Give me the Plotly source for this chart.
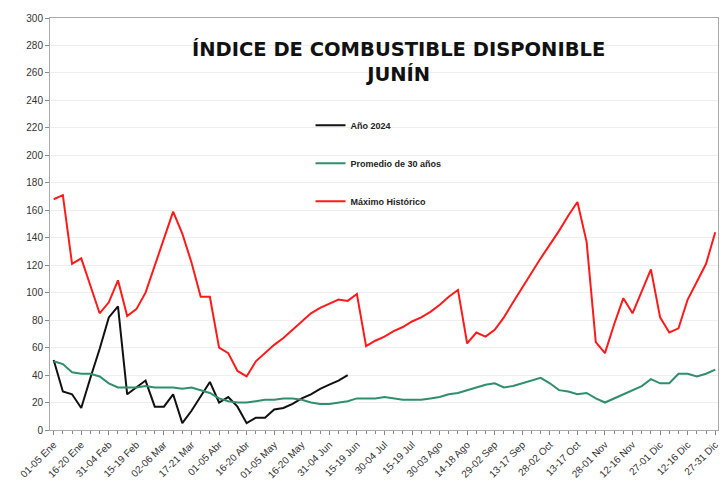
import plotly.graph_objects as go

# pentad index (73 periods of 5 days in the year)
pentad = list(range(73))

tick_pos = list(range(0, 73, 3))
tick_text = ['01-05 Ene', '16-20 Ene', '31-04 Feb', '15-19 Feb', '02-06 Mar', '17-21 Mar',
             '01-05 Abr', '16-20 Abr', '01-05 May', '16-20 May', '31-04 Jun', '15-19 Jun',
             '30-04 Jul', '15-19 Jul', '30-03 Ago', '14-18 Ago', '29-02 Sep', '13-17 Sep',
             '28-02 Oct', '13-17 Oct', '28-01 Nov', '12-16 Nov', '27-01 Dic', '12-16 Dic',
             '27-31 Dic']

anio_2024 = [51, 28, 26, 16, 38, 59, 82, 90, 26, 31, 36, 17, 17, 26, 5, 14, 25, 35,
             20, 24, 17, 5, 9, 9, 15, 16, 19, 23, 26, 30, 33, 36, 40]

promedio_30 = [50, 48, 42, 41, 41, 39, 34, 31, 31, 31, 32, 31, 31, 31, 30, 31, 29, 27,
               23, 21, 20, 20, 21, 22, 22, 23, 23, 22, 20, 19, 19, 20, 21, 23, 23, 23,
               24, 23, 22, 22, 22, 23, 24, 26, 27, 29, 31, 33, 34, 31, 32, 34, 36, 38,
               34, 29, 28, 26, 27, 23, 20, 23, 26, 29, 32, 37, 34, 34, 41, 41, 39, 41, 44]

maximo_hist = [168, 171, 121, 125, 105, 85, 93, 109, 83, 88, 100, 120, 140, 159, 143, 122,
               97, 97, 60, 56, 43, 39, 50, 56, 62, 67, 73, 79, 85, 89, 92, 95, 94, 99,
               61, 65, 68, 72, 75, 79, 82, 86, 91, 97, 102, 63, 71, 68, 73, 82, 93, 104,
               114, 125, 135, 145, 156, 166, 137, 64, 56, 77, 96, 85, 101, 117, 82, 71,
               74, 95, 108, 121, 144]

fig = go.Figure()

fig.add_trace(go.Scatter(x=pentad[:len(anio_2024)], y=anio_2024, mode='lines',
                         name='<b>Año 2024</b>', legendgroup='a',
                         line=dict(color='#111111', width=2)))
fig.add_trace(go.Scatter(x=pentad, y=promedio_30, mode='lines',
                         name='<b>Promedio de 30 años</b>', legendgroup='b',
                         line=dict(color='#2f8f6a', width=2)))
fig.add_trace(go.Scatter(x=pentad, y=maximo_hist, mode='lines',
                         name='<b>Máximo Histórico</b>', legendgroup='c',
                         line=dict(color='#ff1a1a', width=2)))

fig.add_annotation(text='<b>ÍNDICE DE COMBUSTIBLE DISPONIBLE<br>JUNÍN</b>',
                   xref='paper', yref='paper', x=0.521, y=0.892, showarrow=False,
                   xanchor='center', yanchor='middle',
                   font=dict(family='DejaVu Sans', size=19.5, color='#111111'))

fig.update_layout(
    width=722, height=489,
    margin=dict(l=50, r=2, t=18, b=59),
    paper_bgcolor='white',
    plot_bgcolor='white',
    font=dict(family='Liberation Sans', size=10, color='#333333'),
    showlegend=True,
    legend=dict(x=0.39, y=0.775, xanchor='left', yanchor='top',
                bgcolor='rgba(0,0,0,0)', tracegroupgap=19,
                font=dict(size=9, color='#222222', family='Liberation Sans')),
)

fig.update_xaxes(range=[-0.4, 72.3], tickmode='array', tickvals=tick_pos,
                 ticktext=tick_text, tickangle=-45, ticks='outside', ticklen=4,
                 tickcolor='#888888', showgrid=False, zeroline=False,
                 showline=True, linecolor='#aaaaaa', mirror=True,
                 ticklabeloverflow='allow',
                 tickfont=dict(size=10, color='#333333'),
                 minor=dict(dtick=1, tick0=0, ticks='outside', ticklen=3,
                            tickcolor='#888888', showgrid=False))
fig.update_yaxes(range=[0, 300], dtick=20, ticks='outside', ticklen=4,
                 tickcolor='#888888', showgrid=True, gridcolor='#eeeeee',
                 zeroline=False, showline=True, linecolor='#aaaaaa', mirror=True,
                 tickfont=dict(size=10, color='#333333'))

# drop the default page margin so the figure sits at the window corner
fig.write_html('out.html', config={'displayModeBar': False},
               post_script="document.body.style.margin='0px';")
